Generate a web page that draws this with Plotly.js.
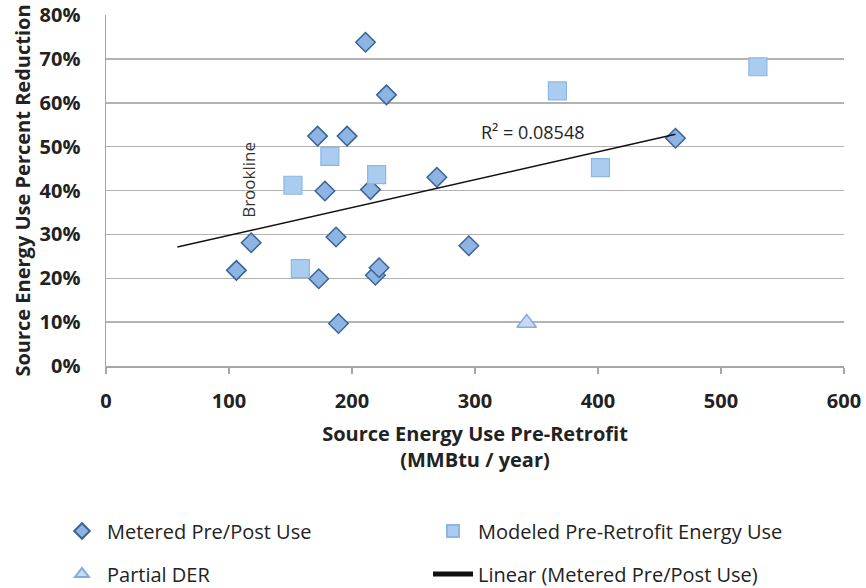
<!DOCTYPE html>
<html>
<head>
<meta charset="utf-8">
<script src="https://cdn.plot.ly/plotly-3.0.1.min.js"></script>
<style>html,body{margin:0;padding:0;background:#fff;}#chart{width:866px;height:588px;}</style>
</head>
<body>
<div id="chart"></div>
<script>
// Metered Pre/Post Use
const meteredX = [211, 228, 172, 196, 178, 215, 269, 463, 118, 106, 187, 295, 173, 219, 222, 189];
const meteredY = [0.738, 0.618, 0.524, 0.524, 0.399, 0.402, 0.430, 0.519, 0.281, 0.218, 0.294, 0.274, 0.199, 0.207, 0.224, 0.097];
// Modeled Pre-Retrofit Energy Use
const modeledX = [367, 182, 220, 152, 530, 402, 158];
const modeledY = [0.627, 0.478, 0.436, 0.412, 0.682, 0.452, 0.222];
// Partial DER
const partialX = [342];
const partialY = [0.098];
// Linear trend (Metered Pre/Post Use), endpoints
const trendX = [58, 463];
const trendY = [0.271, 0.528];
const xTicks = [0, 100, 200, 300, 400, 500, 600];
const yTicks = [0, 0.1, 0.2, 0.3, 0.4, 0.5, 0.6, 0.7, 0.8];

const FONT = 'Open Sans, Lato, sans-serif';
const traces = [
  {x: meteredX, y: meteredY, type: 'scatter', mode: 'markers', name: 'Metered Pre/Post Use',
   marker: {symbol: 'diamond', size: 15, color: 'rgb(141,180,226)', line: {color: 'rgb(58,100,152)', width: 1.5}},
   legend: 'legend'},
  {x: modeledX, y: modeledY, type: 'scatter', mode: 'markers', name: 'Modeled Pre-Retrofit Energy Use',
   marker: {symbol: 'square', size: 18, color: 'rgb(170,204,240)', line: {color: 'rgb(141,182,228)', width: 1.2}},
   legend: 'legend'},
  {x: partialX, y: partialY, type: 'scatter', mode: 'markers', name: 'Partial DER',
   marker: {symbol: 'triangle-up', size: 17, color: 'rgb(200,218,242)', line: {color: 'rgb(130,172,222)', width: 1.5}},
   legend: 'legend2'},
  {x: trendX, y: trendY, type: 'scatter', mode: 'lines', name: 'Linear (Metered Pre/Post Use)',
   line: {color: '#111', width: 1.5}, legend: 'legend2'}
];

const legendCommon = {orientation: 'h', xref: 'container', yref: 'container', xanchor: 'left', yanchor: 'middle', x: 57 / 866,
  entrywidth: 316, entrywidthmode: 'pixels', itemsizing: 'constant', itemwidth: 40,
  font: {family: FONT, size: 20, color: '#222'},
  bgcolor: 'rgba(0,0,0,0)', traceorder: 'normal'};

const layout = {
  width: 866, height: 588,
  margin: {l: 106, r: 22, t: 15, b: 222},
  paper_bgcolor: '#fff', plot_bgcolor: '#fff',
  font: {family: FONT, color: '#222'},
  showlegend: true,
  xaxis: {range: [0, 600], tickvals: xTicks, ticktext: xTicks.map(String), showgrid: false, zeroline: false, automargin: false,
    showline: true, linecolor: '#a6a6a6', linewidth: 1.5, ticks: 'outside', ticklen: 6, tickcolor: '#a6a6a6', tickwidth: 1.5,
    ticklabelstandoff: 10,
    tickfont: {family: FONT, size: 20, color: '#222', weight: 'bold'},
    title: {text: '<b>Source Energy Use Pre-Retrofit</b><br><b>(MMBtu / year)</b>', font: {family: FONT, size: 20, color: '#222'}, standoff: 14}},
  yaxis: {range: [0, 0.8], tickvals: yTicks, tickformat: '.0%', showgrid: true, gridcolor: '#b3b3b3', gridwidth: 1.5, zeroline: false, automargin: false,
    showline: true, linecolor: '#a6a6a6', linewidth: 1.5, ticks: '', ticklabelstandoff: 20,
    tickfont: {family: FONT, size: 20, color: '#222', weight: 'bold'},
    title: {text: '<b>Source Energy Use Percent Reduction</b>', font: {family: FONT, size: 20, color: '#222'}, standoff: 3}},
  legend: Object.assign({}, legendCommon, {y: 1 - 531 / 588}),
  legend2: Object.assign({}, legendCommon, {y: 1 - 574 / 588}),
  annotations: [
    {x: 115.7, y: 0.425, xref: 'x', yref: 'y', text: 'Brookline', showarrow: false, textangle: -90,
     font: {family: FONT, size: 17, color: '#333'}},
    {x: 347, y: 0.534, xref: 'x', yref: 'y', text: 'R² = 0.08548', showarrow: false,
     font: {family: FONT, size: 18, color: '#222'}}
  ]
};

Plotly.newPlot('chart', traces, layout, {displayModeBar: false, staticPlot: true});
</script>
</body>
</html>
